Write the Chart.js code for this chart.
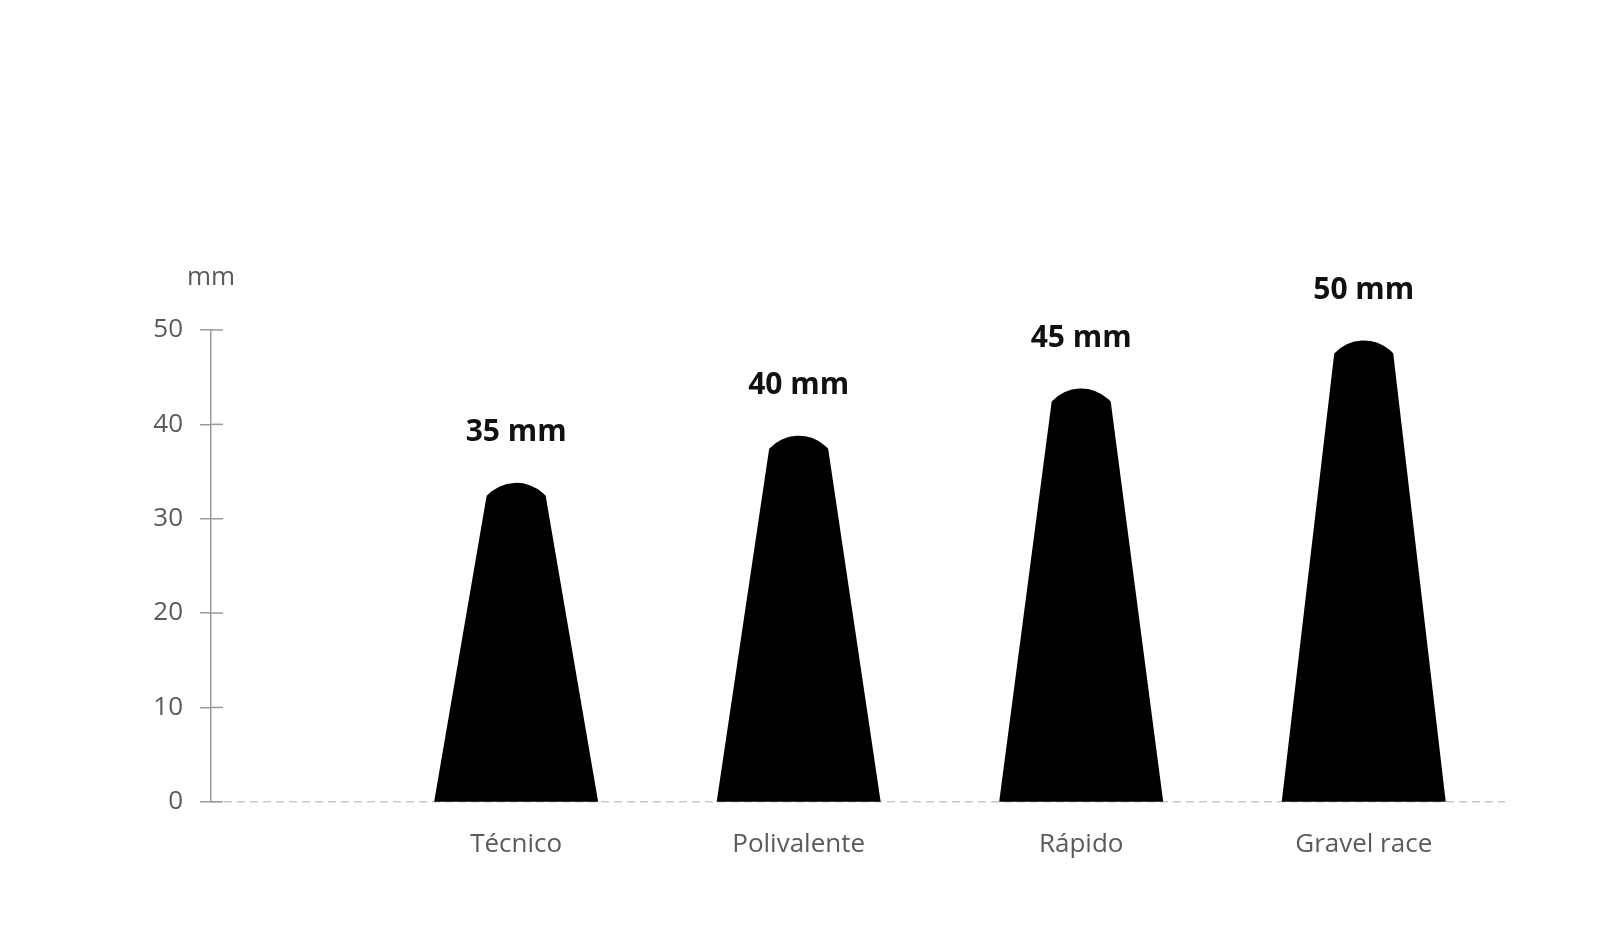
<!DOCTYPE html>
<html>
<head>
<meta charset="utf-8">
<script src="https://cdn.jsdelivr.net/npm/chart.js@4/dist/chart.umd.min.js"></script>
<style>
  html, body { margin: 0; padding: 0; background: #fff; }
  #wrap { width: 1600px; height: 941px; position: relative; }
</style>
</head>
<body>
<div id="wrap"><canvas id="tyreChart"></canvas></div>
<script>
// categories and their slot on the x axis
var categories = ['Técnico', 'Polivalente', 'Rápido', 'Gravel race'];
var positions = [1, 2, 3, 4];
// tyre widths written above each profile
var tyreWidths = [35, 40, 45, 50];
// height of the top of each profile
var profileHeights = [33.8, 38.8, 43.8, 48.9];
// y axis
var yMin = 0;
var yMax = 50;
var yStep = 10;
var yUnit = 'mm';

var gray = '#5a5a5a';
var axisGray = '#9a9a9a';

/**
 *  Draws the tapered tyre profiles, the dashed zero line, the inner tick marks,
 *  the unit on top of the y axis and the value labels.
 */
var profilePlugin = {
    id: 'profile',
    beforeDatasetsDraw: function(chart) {
        const ctx = chart.ctx;
        const area = chart.chartArea;
        const y = chart.scales.y;
        const y0 = y.getPixelForValue(0);

        // dashed baseline
        ctx.save();
        ctx.strokeStyle = '#c8c8c8';
        ctx.lineWidth = 1.5;
        ctx.setLineDash([8, 5]);
        ctx.beginPath();
        ctx.moveTo(area.left, y0);
        ctx.lineTo(area.right, y0);
        ctx.stroke();
        ctx.restore();
    },
    afterDatasetsDraw: function(chart) {
        const ctx = chart.ctx;
        const area = chart.chartArea;
        const y = chart.scales.y;
        const y0 = y.getPixelForValue(0);
        const meta = chart.getDatasetMeta(0);

        const bottomHalf = 82;
        const topHalf = 29.5;
        const cap = 13;
        const radius = (topHalf * topHalf + cap * cap) / (2 * cap);
        const angle = Math.asin(topHalf / radius);

        ctx.save();
        meta.data.forEach(function(pt, i) {
            const cx = pt.x;
            const peak = pt.y;
            const shoulder = peak + cap;
            ctx.fillStyle = '#000';
            ctx.beginPath();
            ctx.moveTo(cx - bottomHalf, y0);
            ctx.lineTo(cx - topHalf, shoulder);
            ctx.arc(cx, peak + radius, radius, -Math.PI / 2 - angle, -Math.PI / 2 + angle);
            ctx.lineTo(cx + bottomHalf, y0);
            ctx.closePath();
            ctx.fill();

            ctx.fillStyle = '#111';
            ctx.font = 'bold 30px "Open Sans"';
            ctx.textAlign = 'center';
            ctx.textBaseline = 'middle';
            ctx.fillText(tyreWidths[i] + ' mm', cx, peak - 50);
        });

        // inner half of the y tick marks
        ctx.strokeStyle = axisGray;
        ctx.lineWidth = 1.5;
        y.ticks.forEach(function(t) {
            const py = y.getPixelForValue(t.value);
            ctx.beginPath();
            ctx.moveTo(area.left, py);
            ctx.lineTo(area.left + 12, py);
            ctx.stroke();
        });

        // unit
        ctx.fillStyle = gray;
        ctx.font = '26px "Open Sans"';
        ctx.textAlign = 'center';
        ctx.textBaseline = 'middle';
        ctx.fillText(yUnit, area.left, y.getPixelForValue(yMax) - 52);
        ctx.restore();
    }
};

var tyreChart = new Chart(document.getElementById('tyreChart').getContext('2d'), {
    type: 'scatter',
    data: {
        datasets: [{
            data: positions.map(function(p, i) { return { x: p, y: profileHeights[i] }; }),
            pointRadius: 0,
            pointHoverRadius: 0,
            showLine: false
        }]
    },
    options: {
        responsive: true,
        maintainAspectRatio: false,
        animation: false,
        layout: { padding: { top: 330, right: 95, bottom: 54, left: 0 } },
        plugins: {
            legend: { display: false },
            tooltip: { enabled: false }
        },
        scales: {
            x: {
                type: 'linear',
                min: -0.08,
                max: 4.5,
                grid: { display: false, drawTicks: false },
                border: { display: false },
                afterBuildTicks: function(scale) {
                    scale.ticks = positions.map(function(p) { return { value: p }; });
                },
                ticks: {
                    padding: 27,
                    color: gray,
                    font: { family: 'Open Sans', size: 26 },
                    maxRotation: 0,
                    callback: function(value) {
                        const i = positions.indexOf(value);
                        return i >= 0 ? categories[i] : '';
                    }
                }
            },
            y: {
                min: yMin,
                max: yMax,
                afterFit: function(scale) { scale.width = 211; },
                grid: {
                    drawOnChartArea: false,
                    drawTicks: true,
                    tickLength: 11,
                    color: axisGray,
                    lineWidth: 1.5
                },
                border: { display: true, color: axisGray, width: 1.5 },
                ticks: {
                    stepSize: yStep,
                    padding: 17,
                    color: gray,
                    font: { family: 'Open Sans', size: 26 }
                }
            }
        }
    },
    plugins: [profilePlugin]
});
</script>
</body>
</html>
